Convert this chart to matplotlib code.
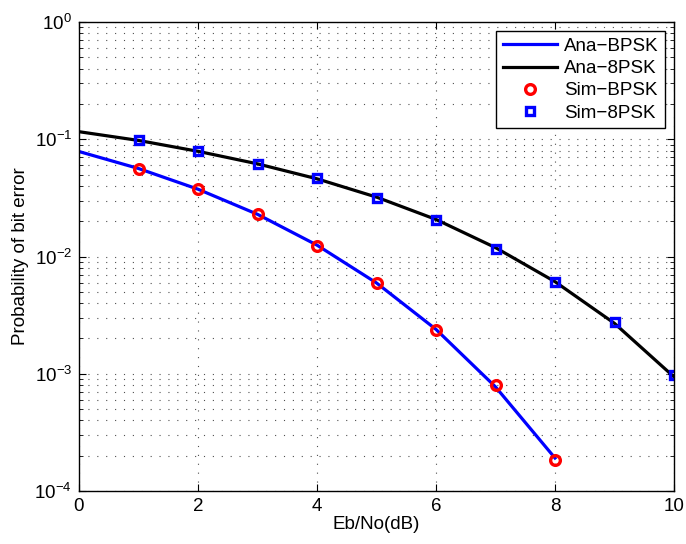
import matplotlib
matplotlib.use("Agg")
import matplotlib.pyplot as plt
from matplotlib.ticker import LogLocator, NullFormatter, FixedLocator

plt.rcParams['font.family'] = ['Liberation Sans', 'DejaVu Sans']
plt.rcParams['mathtext.fontset'] = 'custom'
plt.rcParams['mathtext.rm'] = 'Liberation Sans'
plt.rcParams['mathtext.it'] = 'Liberation Sans'

# Eb/No axis (dB)
ebno_bpsk = [0, 1, 2, 3, 4, 5, 6, 7, 8]
ebno_8psk = [0, 1, 2, 3, 4, 5, 6, 7, 8, 9, 10]

# Analytic bit error probabilities
ana_bpsk = [0.0786, 0.0563, 0.0375, 0.0229, 0.0125, 0.00595, 0.00239, 0.000773, 0.000191]
ana_8psk = [0.116, 0.0977, 0.0789, 0.0617, 0.0460, 0.0321, 0.0207, 0.0119, 0.0061, 0.00269, 0.00094]

# Simulated bit error rates
sim_ebno_bpsk = [1, 2, 3, 4, 5, 6, 7, 8]
sim_bpsk = [0.0560, 0.0374, 0.0231, 0.0124, 0.00590, 0.00236, 0.000800, 0.000185]
sim_ebno_8psk = [1, 2, 3, 4, 5, 6, 7, 8, 9, 10]
sim_8psk = [0.0985, 0.0790, 0.0615, 0.0465, 0.0315, 0.0203, 0.0117, 0.0061, 0.00275, 0.00097]

legend_labels = ['Ana\u2212BPSK', 'Ana\u22128PSK', 'Sim\u2212BPSK', 'Sim\u22128PSK']

FS = 13.5

fig = plt.figure(figsize=(6.86, 5.44), dpi=100)
ax = fig.add_axes([79 / 686, 1 - 491 / 544, 595 / 686, 469 / 544])

ax.semilogy(ebno_bpsk, ana_bpsk, color='#0000ff', lw=2.3, label=legend_labels[0])
ax.semilogy(ebno_8psk, ana_8psk, color='black', lw=2.3, label=legend_labels[1])
ax.semilogy(sim_ebno_bpsk, sim_bpsk, 'o', mfc='none', mec='red', mew=2.4, ms=7.0,
            label=legend_labels[2])
ax.semilogy(sim_ebno_8psk, sim_8psk, 's', mfc='none', mec='#0000ff', mew=2.4, ms=6.2,
            label=legend_labels[3])

ax.set_xlim(0, 10)
ax.set_ylim(1e-4, 1e0)
ax.xaxis.set_major_locator(FixedLocator([0, 2, 4, 6, 8, 10]))
ax.yaxis.set_major_locator(LogLocator(base=10, numticks=10))
ax.yaxis.set_minor_locator(LogLocator(base=10, subs=range(2, 10), numticks=20))
ax.yaxis.set_minor_formatter(NullFormatter())

ax.tick_params(which='both', direction='in', top=True, right=True, labelsize=FS)
ax.tick_params(which='major', length=5, width=0.8)
ax.tick_params(which='minor', length=3, width=0.6)
ax.tick_params(axis='x', pad=5)
ax.tick_params(axis='y', pad=5)

dots = (0, (1, 7))
ax.grid(True, which='major', linestyle=dots, color='#505050', lw=0.8)
ax.grid(True, which='minor', axis='y', linestyle=dots, color='#505050', lw=0.8)

for sp in ax.spines.values():
    sp.set_linewidth(1.0)

ax.set_xlabel('Eb/No(dB)', fontsize=FS, labelpad=1)
ax.set_ylabel('Probability of bit error', fontsize=FS, labelpad=4)

leg = ax.legend(loc='upper right', fontsize=FS, fancybox=False, framealpha=1,
                edgecolor='black', borderpad=0.35, handlelength=2.9, handletextpad=0.35,
                labelspacing=0.28, borderaxespad=0,
                bbox_to_anchor=((665 - 79) / 595, (491 - 31) / 469))
leg.get_frame().set_linewidth(1.0)

fig.savefig('out.png', dpi=100)
